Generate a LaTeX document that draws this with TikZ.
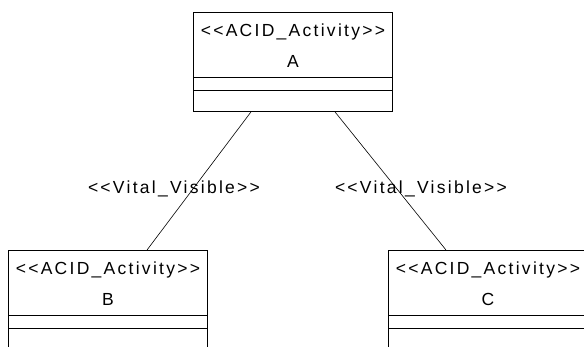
\documentclass[tikz,border=0pt]{standalone}
\usepackage{fontspec}
\newfontfamily\umlfont{Liberation Sans}[LetterSpace=13]
\usetikzlibrary{calc}
\begin{document}
\begin{tikzpicture}[x=1pt,y=-1pt,
  classbox/.style={draw, line width=0.9pt, minimum width=199pt, minimum height=99pt,
                   anchor=north west, inner sep=0pt},
  sep/.style={line width=0.9pt},
  assoc/.style={line width=0.6pt},
  txt/.style={font=\umlfont\fontsize{17.5}{17.5}\selectfont, inner sep=0pt, anchor=center}]
\useasboundingbox (0,0) rectangle (584,346);

% class boxes
\node[classbox] (A) at (193,12) {};
\node[classbox] (B) at (8,250) {};
\node[classbox] (C) at (388,250) {};

% compartments
\foreach \n in {A,B,C}{
  \draw[sep] ([yshift=-65.5pt]\n.north west) -- ([yshift=-65.5pt]\n.north east);
  \draw[sep] ([yshift=-78.5pt]\n.north west) -- ([yshift=-78.5pt]\n.north east);
}

% stereotypes and names
\node[txt] (As) at ($(A.north)+(0,20)$) {<{}<ACID\_Activity>{}>};
\node[txt] (An) at ($(A.north)+(0,49)$) {A};
\node[txt] (Bs) at ($(B.north)+(0,20)$) {<{}<ACID\_Activity>{}>};
\node[txt] (Bn) at ($(B.north)+(0,49)$) {B};
\node[txt] (Cs) at ($(C.north)+(0,20)$) {<{}<ACID\_Activity>{}>};
\node[txt] (Cn) at ($(C.north)+(0,49)$) {C};

% association ends
\coordinate (a1) at ($(A.south west)+(58,0)$);
\coordinate (a2) at ($(A.south west)+(142,0)$);
\coordinate (b1) at ($(B.north west)+(139,0)$);
\coordinate (c1) at ($(C.north west)+(58,0)$);

\draw[assoc] (a1) -- (b1);
\draw[assoc] (a2) -- (c1);

% association labels
\node[txt] (L1) at (174,188.5) {<{}<Vital\_Visible>{}>};
\node[txt] (L2) at (421,188.5) {<{}<Vital\_Visible>{}>};
\end{tikzpicture}
\end{document}
